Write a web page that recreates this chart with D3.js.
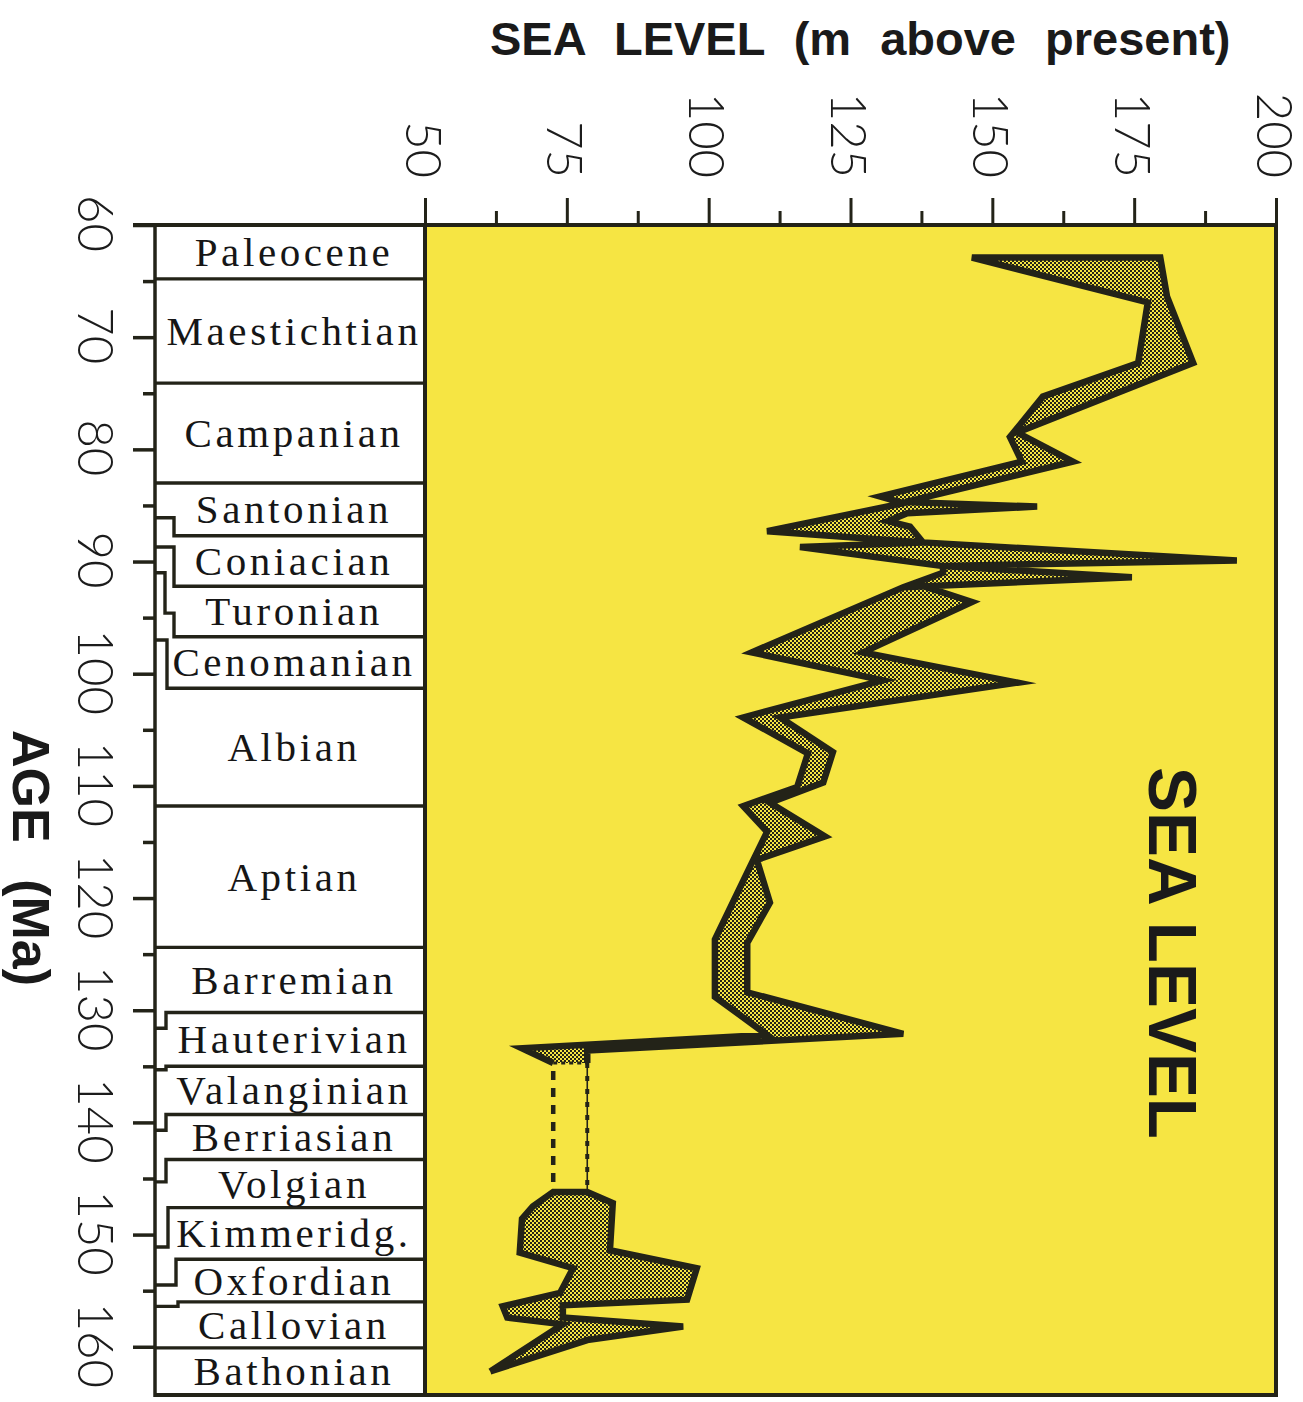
<!DOCTYPE html>
<html>
<head>
<meta charset="utf-8">
<script src="https://cdn.jsdelivr.net/npm/d3@7"></script>
<style>
  html, body { margin: 0; padding: 0; background: #ffffff; }
  svg { display: block; }
</style>
</head>
<body>
<svg id="chart" width="1303" height="1402"></svg>
<script>
// ---- axis values ----
const levelTicks = [50, 75, 100, 125, 150, 175, 200];
const levelMinorTicks = [62.5, 87.5, 112.5, 137.5, 162.5, 187.5];
const ageTicks = [60, 70, 80, 90, 100, 110, 120, 130, 140, 150, 160];
const ageMinorTicks = [65, 75, 85, 95, 105, 115, 125, 135, 145, 155];
const ageDomain = [60, 164.3];
const levelDomain = [50, 200];

// ---- stratigraphic stages (youngest first) ----
const stageNames = ["Paleocene", "Maestichtian", "Campanian", "Santonian", "Coniacian",
  "Turonian", "Cenomanian", "Albian", "Aptian", "Barremian", "Hauterivian",
  "Valanginian", "Berriasian", "Volgian", "Kimmeridg.", "Oxfordian", "Callovian", "Bathonian"];
// stage boundary ages (Ma), top of first stage to base of last
const stageBoundaries = [60, 64.8, 74.1, 83.0, 87.7, 92.2, 96.7, 101.3, 111.8, 124.4,
  130.2, 135.0, 139.3, 143.3, 147.6, 152.2, 156.0, 160.1, 164.3];
// alternative placements of each boundary, shown as steps against the age axis
const boundaryAlternates = [[], [], [], [], [86.1], [88.7], [91.0, 94.6], [97.0], [], [],
  [131.6], [135.3], [140.7], [145.3], [151.1], [154.5], [156.4], [], []];

// ---- sea level envelope, points are [age Ma, sea level m] ----
// Late Cretaceous to Hauterivian: high edge and low edge
const cretaceousHigh = [
  [62.9, 179.6], [66.4, 180.8], [72.3, 185.4], [78.5, 154.4], [81.1, 164.2],
  [84.7, 134.6], [85.1, 157.9], [85.7, 135.0], [86.4, 131.6], [86.9, 135.5],
  [88.3, 137.8], [89.9, 193.1], [90.4, 141.3], [91.4, 174.6], [92.3, 134.3],
  [92.1, 137.3], [93.6, 146.4], [98.1, 127.2], [100.8, 154.4], [103.9, 112.6],
  [107.0, 121.9], [109.7, 120.2], [111.5, 110.8], [114.5, 120.5], [116.6, 108.5],
  [120.4, 110.8], [124.0, 106.8], [128.4, 106.8], [132.1, 134.3], [133.6, 78.6],
  [134.7, 78.6]
];
const cretaceousLow = [
  [62.9, 146.4], [66.9, 177.4], [72.3, 175.7], [75.3, 158.9], [78.9, 153.1],
  [81.1, 155.2], [84.2, 130.2], [84.8, 134.3], [87.3, 110.3], [88.3, 137.8],
  [88.7, 116.1], [90.4, 141.3], [91.0, 141.3], [92.3, 134.3], [98.1, 107.6],
  [100.6, 130.7], [103.9, 106.1], [107.1, 117.5], [110.1, 115.6], [111.8, 106.1],
  [114.1, 110.3], [117.2, 107.3], [123.7, 101.1], [128.8, 101.1], [132.2, 110.3],
  [133.4, 67.1], [134.7, 72.6]
];
// Volgian to Bathonian
const jurassicHigh = [
  [146.2, 78.6], [147.2, 83.1], [151.4, 82.6], [153.0, 97.9], [155.8, 96.2],
  [156.3, 74.3], [157.4, 74.3], [158.2, 95.5], [159.4, 78.6], [162.2, 61.5]
];
const jurassicLow = [
  [146.2, 72.6], [147.5, 69.0], [148.6, 67.1], [151.6, 66.7], [153.0, 76.1],
  [155.2, 73.8], [156.4, 63.7], [157.4, 64.5], [158.0, 74.3], [162.2, 61.5]
];
// unconstrained interval between the two envelopes
const gapLevels = [72.6, 78.6];
const gapAges = [134.7, 146.2];

// ---- drawing ----
const ink = "#232318";
const yellow = "#f6e543";
const svg = d3.select("#chart");

const x = d3.scaleLinear().domain(levelDomain).range([425, 1276]);
const y = d3.scaleLinear().domain(ageDomain).range([225, 1395]);

const axisX = 155;           // age axis line
const colRight = x(50);      // right side of stage column
const plotRight = x(200);

// halftone stipple for the envelope
const defs = svg.append("defs");
const pat = defs.append("pattern").attr("id", "stipple")
  .attr("patternUnits", "userSpaceOnUse").attr("width", 4).attr("height", 4);
pat.append("rect").attr("width", 4).attr("height", 4).attr("fill", yellow);
pat.append("rect").attr("x", 0).attr("y", 0).attr("width", 2).attr("height", 2).attr("fill", ink);
pat.append("rect").attr("x", 2).attr("y", 2).attr("width", 2).attr("height", 2).attr("fill", ink);

// plot background
svg.append("rect")
  .attr("x", x(50)).attr("y", y(60))
  .attr("width", x(200) - x(50)).attr("height", y(ageDomain[1]) - y(60))
  .attr("fill", yellow);

// sea level envelopes
const line = d3.line().x(d => x(d[1])).y(d => y(d[0]));

function drawEnvelope(high, low) {
  const polygon = low.concat(high.slice().reverse());
  svg.append("path")
    .attr("d", line(polygon) + "Z")
    .attr("fill", "url(#stipple)")
    .attr("fill-rule", "nonzero")
    .attr("stroke", "none");
  // outline: up the high edge, across the top, down the low edge
  const outline = high.slice().reverse().concat(low);
  svg.append("path")
    .attr("d", line(outline))
    .attr("fill", "none")
    .attr("stroke", ink)
    .attr("stroke-width", 6.5)
    .attr("stroke-linejoin", "miter")
    .attr("stroke-miterlimit", 6);
}
drawEnvelope(cretaceousHigh, cretaceousLow);
drawEnvelope(jurassicHigh, jurassicLow);

// dashed connectors across the gap
svg.append("line")
  .attr("x1", x(gapLevels[0])).attr("x2", x(gapLevels[0]))
  .attr("y1", y(gapAges[0]) + 8).attr("y2", y(gapAges[1]))
  .attr("stroke", ink).attr("stroke-width", 4.5).attr("stroke-dasharray", "9,8");
svg.append("line")
  .attr("x1", x(gapLevels[1])).attr("x2", x(gapLevels[1]))
  .attr("y1", y(gapAges[0])).attr("y2", y(gapAges[1]))
  .attr("stroke", ink).attr("stroke-width", 1.6);
svg.append("line")
  .attr("x1", x(gapLevels[1])).attr("x2", x(gapLevels[1]))
  .attr("y1", y(gapAges[0])).attr("y2", y(gapAges[1]))
  .attr("stroke", ink).attr("stroke-width", 4).attr("stroke-dasharray", "5,8");
svg.append("line")
  .attr("x1", x(gapLevels[0])).attr("x2", x(gapLevels[1]))
  .attr("y1", y(gapAges[0])).attr("y2", y(gapAges[0]))
  .attr("stroke", ink).attr("stroke-width", 3).attr("stroke-dasharray", "4,4");

// ---- stage column ----
const jogX = {4: [174], 5: [174], 6: [165, 174], 7: [167], 10: [166], 11: [166],
  12: [166], 13: [166], 14: [168], 15: [176], 16: [178]};

stageBoundaries.forEach((age, i) => {
  if (i === 0 || i === stageBoundaries.length - 1) return;
  const alts = boundaryAlternates[i];
  const pts = [];
  if (alts.length) {
    const jx = jogX[i];
    pts.push([axisX, y(alts[0])]);
    alts.forEach((a, k) => {
      const next = k + 1 < alts.length ? alts[k + 1] : age;
      pts.push([jx[k], y(a)]);
      pts.push([jx[k], y(next)]);
    });
  } else {
    pts.push([axisX, y(age)]);
  }
  pts.push([colRight, y(age)]);
  svg.append("path")
    .attr("d", d3.line()(pts))
    .attr("fill", "none")
    .attr("stroke", ink)
    .attr("stroke-width", 3.4);
});

svg.append("g")
  .selectAll("text")
  .data(stageNames)
  .join("text")
  .attr("x", 294)
  .attr("y", (d, i) => (y(stageBoundaries[i]) + y(stageBoundaries[i + 1])) / 2 + 14)
  .attr("text-anchor", "middle")
  .attr("font-family", "'Liberation Serif', 'Times New Roman', serif")
  .attr("font-size", 41)
  .attr("letter-spacing", 3.6)
  .attr("fill", "#161616")
  .text(d => d);

// ---- frame ----
svg.append("line").attr("x1", 133).attr("x2", plotRight + 2)
  .attr("y1", y(60)).attr("y2", y(60)).attr("stroke", ink).attr("stroke-width", 4);
svg.append("line").attr("x1", axisX).attr("x2", plotRight + 2)
  .attr("y1", y(ageDomain[1])).attr("y2", y(ageDomain[1])).attr("stroke", ink).attr("stroke-width", 4);
svg.append("line").attr("x1", axisX).attr("x2", axisX)
  .attr("y1", y(60)).attr("y2", y(ageDomain[1]) + 2).attr("stroke", ink).attr("stroke-width", 3.5);
svg.append("line").attr("x1", colRight).attr("x2", colRight)
  .attr("y1", y(60)).attr("y2", y(ageDomain[1])).attr("stroke", ink).attr("stroke-width", 4);
svg.append("line").attr("x1", plotRight).attr("x2", plotRight)
  .attr("y1", y(60)).attr("y2", y(ageDomain[1]) + 2).attr("stroke", ink).attr("stroke-width", 4);

// ---- sea level axis (top) ----
const numFont = "Lato, 'Open Sans', 'Liberation Sans', sans-serif";
const gx = svg.append("g")
  .attr("transform", `translate(0,${y(60)})`)
  .call(d3.axisTop(x).tickValues(levelTicks).tickSize(27).tickFormat(d3.format("d")));
gx.select(".domain").remove();
gx.selectAll(".tick line").attr("stroke", ink).attr("stroke-width", 3);
gx.selectAll(".tick text")
  .attr("x", 0).attr("y", 0).attr("dy", null)
  .attr("transform", "translate(-1,-47) rotate(90)")
  .attr("text-anchor", "end")
  .attr("dominant-baseline", "central")
  .attr("font-family", numFont)
  .attr("font-weight", 300)
  .attr("font-size", 49)
  .attr("fill", "#1c1c1c");

const gxm = svg.append("g")
  .attr("transform", `translate(0,${y(60)})`)
  .call(d3.axisTop(x).tickValues(levelMinorTicks).tickSize(14).tickFormat(""));
gxm.select(".domain").remove();
gxm.selectAll(".tick line").attr("stroke", ink).attr("stroke-width", 3);

// ---- age axis (left) ----
const gy = svg.append("g")
  .attr("transform", `translate(${axisX},0)`)
  .call(d3.axisLeft(y).tickValues(ageTicks).tickSize(22).tickFormat(d3.format("d")));
gy.select(".domain").remove();
gy.selectAll(".tick line").attr("stroke", ink).attr("stroke-width", 3.5);
gy.selectAll(".tick text")
  .attr("x", 0).attr("y", 0).attr("dy", null)
  .attr("transform", "translate(-58,-2) rotate(90)")
  .attr("text-anchor", "middle")
  .attr("dominant-baseline", "central")
  .attr("font-family", numFont)
  .attr("font-weight", 300)
  .attr("font-size", 49)
  .attr("fill", "#1c1c1c");

const gym = svg.append("g")
  .attr("transform", `translate(${axisX},0)`)
  .call(d3.axisLeft(y).tickValues(ageMinorTicks).tickSize(12).tickFormat(""));
gym.select(".domain").remove();
gym.selectAll(".tick line").attr("stroke", ink).attr("stroke-width", 3.5);

// ---- titles ----
const boldFont = "'Liberation Sans', Arial, Helvetica, sans-serif";
svg.append("text")
  .attr("x", 490).attr("y", 55)
  .attr("font-family", boldFont).attr("font-weight", "bold")
  .attr("font-size", 47).attr("word-spacing", 16)
  .attr("fill", "#1a1a1a")
  .text("SEA LEVEL (m above present)");

svg.append("text")
  .attr("transform", `translate(31,858) rotate(90)`)
  .attr("text-anchor", "middle")
  .attr("dominant-baseline", "central")
  .attr("font-family", boldFont).attr("font-weight", "bold")
  .attr("font-size", 52).attr("word-spacing", 22)
  .attr("fill", "#1a1a1a")
  .text("AGE (Ma)");

svg.append("text")
  .attr("transform", `translate(1173,953) rotate(90)`)
  .attr("text-anchor", "middle")
  .attr("dominant-baseline", "central")
  .attr("font-family", boldFont).attr("font-weight", "bold")
  .attr("font-size", 68)
  .attr("textLength", 372).attr("lengthAdjust", "spacingAndGlyphs")
  .attr("fill", "#1a1a1a")
  .text("SEA LEVEL");
</script>
</body>
</html>
